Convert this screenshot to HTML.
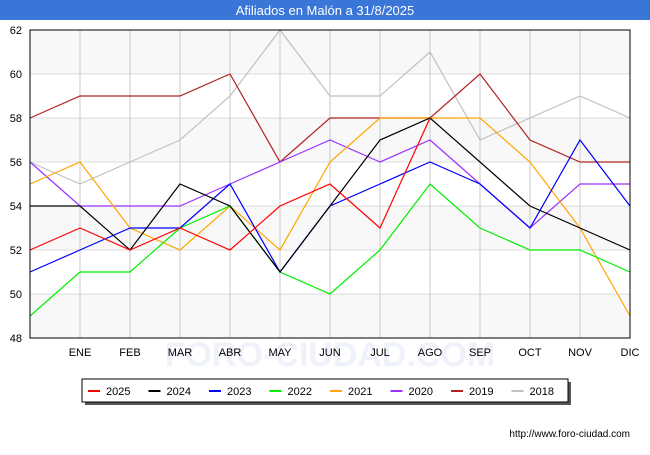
<!DOCTYPE html>
<html><head><meta charset="utf-8"><style>
body{margin:0;background:#fff;font-family:"Liberation Sans",sans-serif}
</style></head><body>
<svg id="c" width="650" height="450" xmlns="http://www.w3.org/2000/svg" font-family="Liberation Sans, sans-serif">
<rect x="0" y="0" width="650" height="20" fill="#3a75d8"/>
<text x="325" y="15" text-anchor="middle" fill="#fff" font-size="13">Afiliados en Malón a 31/8/2025</text>
<text x="330" y="366" text-anchor="middle" font-size="34" fill="#f0f2fb" font-weight="bold">FORO-CIUDAD.COM</text>
<g id="plot"></g>
<text x="630" y="437" text-anchor="end" font-size="10" fill="#000">http://www.foro-ciudad.com</text>
</svg>
<script>
const months=["","ENE","FEB","MAR","ABR","MAY","JUN","JUL","AGO","SEP","OCT","NOV","DIC"];
const yTicks=[48,50,52,54,56,58,60,62];
const seriesNames=["2025","2024","2023","2022","2021","2020","2019","2018"];
const seriesColors=["#ff0000","#000000","#0000ff","#00ee00","#ffa500","#9b30ff","#b22222","#c0c0c0"];
const s2025=[52,53,52,53,52,54,55,53,58];
const s2024=[54,54,52,55,54,51,54,57,58,56,54,53,52];
const s2023=[51,52,53,53,55,51,54,55,56,55,53,57,54];
const s2022=[49,51,51,53,54,51,50,52,55,53,52,52,51];
const s2021=[55,56,53,52,54,52,56,58,58,58,56,53,49];
const s2020=[56,54,54,54,55,56,57,56,57,55,53,55,55];
const s2019=[58,59,59,59,60,56,58,58,58,60,57,56,56];
const s2018=[56,55,56,57,59,62,59,59,61,57,58,59,58];
const allSeries=[s2025,s2024,s2023,s2022,s2021,s2020,s2019,s2018];
const X0=30,X1=630,Y0=338,Y1=30,ymin=48,ymax=62;
const xs=i=>X0+i*(X1-X0)/(months.length-1);
const ys=v=>Y0-(v-ymin)*(Y0-Y1)/(ymax-ymin);
const NS="http://www.w3.org/2000/svg";
const g=document.getElementById('plot');
function mk(t,a,p){const e=document.createElementNS(NS,t);for(const k in a)e.setAttribute(k,a[k]);(p||g).appendChild(e);return e;}
for(let i=0;i<yTicks.length-1;i++){
 const r=mk('rect',{x:X0,y:ys(yTicks[i+1]),width:X1-X0,height:ys(yTicks[i])-ys(yTicks[i+1]),fill:(i%2==0)?'#f8f8f8':'#ffffff'});
 
 
}
yTicks.forEach(v=>{
 const l=mk('line',{x1:X0,x2:X1,y1:ys(v),y2:ys(v),stroke:'#dddddd'});
 
 
 const t=mk('text',{x:X0-8,y:ys(v)+4,'text-anchor':'end','font-size':11});
 t.textContent=v;
 
 
});
months.forEach((m,i)=>{
 if(i>0){const l=mk('line',{x1:xs(i),x2:xs(i),y1:Y1,y2:Y0,stroke:'#c8c8c8'});
 
 }
 const t=mk('text',{x:xs(i),y:356,'text-anchor':'middle','font-size':11});
 t.textContent=m;
 
 
});
for(let k=allSeries.length-1;k>=0;k--){
 const pts=allSeries[k].map((v,i)=>xs(i)+','+ys(v)).join(' ');
 const p=mk('polyline',{points:pts,fill:'none',stroke:seriesColors[k],'stroke-width':1.2});
 
 
}
const f=mk('rect',{x:X0,y:Y1,width:X1-X0,height:Y0-Y1,fill:'none',stroke:'#000'});


const lg=mk('g',{});


mk('rect',{x:85,y:382,width:486,height:23,fill:'#555'},lg);
mk('rect',{x:82,y:379,width:486,height:23,fill:'#fff',stroke:'#000'},lg);
seriesNames.forEach((n,k)=>{
 const x=88+k*60.5;
 const e=mk('g',{},lg);
 
 
 mk('line',{x1:x,x2:x+12,y1:391,y2:391,stroke:seriesColors[k],'stroke-width':2},e);
 const t=mk('text',{x:x+18,y:395,'font-size':11},e);
 t.textContent=n;
});
</script>
</body></html>
